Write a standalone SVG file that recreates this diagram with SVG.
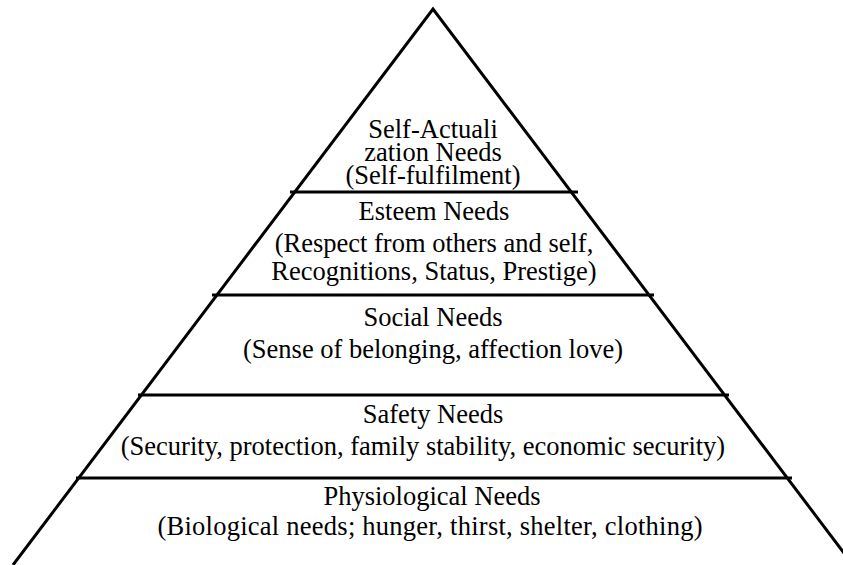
<svg xmlns="http://www.w3.org/2000/svg" width="843" height="565" viewBox="0 0 843 565">
<style>
.l{stroke:#000;stroke-width:3;fill:none;stroke-linecap:butt}
text{font-family:"Liberation Serif","Times New Roman",serif;font-size:26.5px;fill:#000;text-anchor:middle}
</style>
<rect width="843" height="565" fill="#fff"/>
<g id="connectors">
<polyline class="l" points="13,565 433,9 853,565"/>
<line class="l" x1="290" y1="192" x2="578" y2="192"/>
<line class="l" x1="212" y1="295" x2="654" y2="295"/>
<line class="l" x1="138" y1="395" x2="729" y2="395"/>
<line class="l" x1="76" y1="478" x2="792" y2="478"/>
</g>
<g id="self-actualization">
<text x="433" y="138">Self-Actuali</text>
<text x="433" y="161">zation Needs</text>
<text x="433" y="184">(Self-fulfilment)</text>
</g>
<g id="esteem">
<text x="434" y="220">Esteem Needs</text>
<text x="434" y="252">(Respect from others and self,</text>
<text x="434" y="280">Recognitions, Status, Prestige)</text>
</g>
<g id="social">
<text x="433" y="326">Social Needs</text>
<text x="433" y="358">(Sense of belonging, affection love)</text>
</g>
<g id="safety">
<text x="433" y="423">Safety Needs</text>
<text x="423" y="455">(Security, protection, family stability, economic security)</text>
</g>
<g id="physiological">
<text x="432" y="505">Physiological Needs</text>
<text x="430" y="535" textLength="545" lengthAdjust="spacing">(Biological needs; hunger, thirst, shelter, clothing)</text>
</g>
</svg>
